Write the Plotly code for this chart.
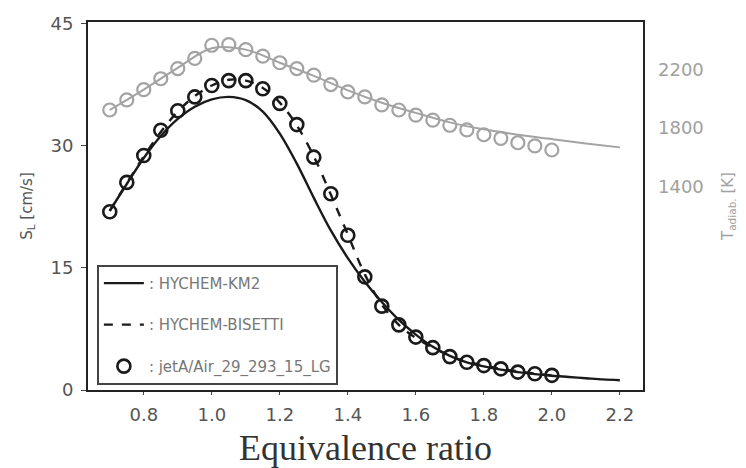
import plotly.graph_objects as go

# Experimental points (jetA/Air)
phi_exp = [0.70, 0.75, 0.80, 0.85, 0.90, 0.95, 1.00, 1.05, 1.10, 1.15, 1.20, 1.25, 1.30, 1.35,
           1.40, 1.45, 1.50, 1.55, 1.60, 1.65, 1.70, 1.75, 1.80, 1.85, 1.90, 1.95, 2.00]
sl_exp = [21.9, 25.5, 28.8, 31.9, 34.3, 36.0, 37.4, 38.0, 38.0, 37.0, 35.2, 32.6, 28.6, 24.1,
          19.0, 13.9, 10.3, 8.0, 6.5, 5.2, 4.1, 3.4, 3.0, 2.6, 2.2, 2.0, 1.8]
t_exp = [1925, 1995, 2065, 2140, 2210, 2280, 2370, 2375, 2340, 2295, 2250, 2210, 2165, 2100,
         2050, 2015, 1960, 1925, 1890, 1855, 1820, 1788, 1755, 1730, 1700, 1678, 1650]

# HYCHEM-BISETTI (dashed)
sl_bisetti = [22.0, 25.4, 28.7, 31.7, 34.2, 36.1, 37.4, 38.1, 38.0, 37.1, 35.3, 32.5, 28.7, 24.0,
              19.1, 14.2, 10.5, 8.0, 6.4, 5.2, 4.2, 3.5, 3.0, 2.6, 2.3, 2.0, 1.8]

# HYCHEM-KM2 (solid)
phi_km2 = [0.70, 0.75, 0.80, 0.85, 0.90, 0.95, 1.00, 1.05, 1.10, 1.15, 1.20, 1.25, 1.30, 1.35,
           1.40, 1.45, 1.50, 1.55, 1.60, 1.65, 1.70, 1.75, 1.80, 1.85, 1.90, 1.95, 2.00, 2.05,
           2.10, 2.15, 2.20]
sl_km2 = [22.0, 25.3, 28.5, 31.2, 33.3, 34.8, 35.7, 36.0, 35.6, 34.2, 31.5, 27.8, 23.6, 19.6,
          16.2, 13.3, 10.8, 8.6, 6.8, 5.3, 4.2, 3.4, 2.9, 2.5, 2.2, 1.95, 1.75, 1.6,
          1.45, 1.3, 1.2]

# Adiabatic temperature (computed, gray line)
phi_t = [0.7, 0.8, 0.9, 1.0, 1.1, 1.2, 1.3, 1.4, 1.5, 1.6, 1.7, 1.8, 1.9, 2.0, 2.1, 2.2]
t_calc = [1925, 2065, 2215, 2350, 2340, 2250, 2160, 2060, 1975, 1905, 1840, 1792, 1755, 1725, 1695, 1668]

x_ticks = [0.8, 1.0, 1.2, 1.4, 1.6, 1.8, 2.0, 2.2]
x_ticktext = ["0.8", "1.0", "1.2", "1.4", "1.6", "1.8", "2.0", "2.2"]
y_ticks = [0, 15, 30, 45]
y2_ticks = [1400, 1800, 2200]

BLACK = "#1a1a1a"
GRAY = "#a3a3a3"
TICKFONT = "DejaVu Sans, sans-serif"

fig = go.Figure()

# Temperature (right axis)
fig.add_trace(go.Scatter(x=phi_t, y=t_calc, yaxis="y2", mode="lines", line=dict(color=GRAY, width=2, shape="spline"),
                         showlegend=False, hoverinfo="skip"))
fig.add_trace(go.Scatter(x=phi_exp, y=t_exp, yaxis="y2", mode="markers",
                         marker=dict(symbol="circle-open", size=13, color=GRAY, line=dict(width=2.2, color=GRAY)),
                         showlegend=False))

# Flame speed (left axis)
fig.add_trace(go.Scatter(x=phi_km2, y=sl_km2, mode="lines", name=": HYCHEM-KM2", legendgroup="a",
                         line=dict(color=BLACK, width=2.4, shape="spline")))
fig.add_trace(go.Scatter(x=phi_exp, y=sl_bisetti, mode="lines", name=": HYCHEM-BISETTI", legendgroup="b",
                         line=dict(color=BLACK, width=2.4, dash="dash", shape="spline")))
fig.add_trace(go.Scatter(x=phi_exp, y=sl_exp, mode="markers", name=": jetA/Air_29_293_15_LG", legendgroup="c",
                         marker=dict(symbol="circle-open", size=13, color=BLACK, line=dict(width=2.6, color=BLACK))))

fig.update_layout(
    width=738, height=460,
    margin=dict(l=80, r=103, t=14, b=78),
    paper_bgcolor="white", plot_bgcolor="white",
    font=dict(family=TICKFONT, color="#444"),
    xaxis=dict(range=[0.636, 2.268], tickvals=x_ticks, ticktext=x_ticktext,
               showline=True, linecolor="#222", linewidth=2, mirror=True,
               ticks="outside", ticklen=3, tickcolor="#444", showgrid=False, zeroline=False,
               tickfont=dict(size=18, color="#555", family=TICKFONT), ticklabelstandoff=4, automargin=False,
               title=dict(text="Equivalence ratio", font=dict(family="Liberation Serif, DejaVu Serif, serif", size=36, color="#333"),
                          standoff=16)),
    yaxis=dict(range=[0, 45.2], tickvals=y_ticks, showline=True, linecolor="#222", linewidth=2, mirror=True,
               ticks="outside", ticklen=5, tickcolor="#444", showgrid=False, zeroline=False,
               tickfont=dict(size=18, color="#555", family=TICKFONT), ticklabelstandoff=4, automargin=False,
               title=dict(text="S<sub>L</sub> [cm/s]", font=dict(size=15, color="#555"), standoff=14)),
    yaxis2=dict(range=[0, 2530], tickvals=y2_ticks, overlaying="y", side="right",
                showline=False, showgrid=False, zeroline=False, ticks="",
                tickfont=dict(size=18, color="#a0a0a0", family=TICKFONT), ticklabelstandoff=14, automargin=False,
                title=dict(text="T<sub>adiab.</sub> [K]", font=dict(size=15, color="#a0a0a0"), standoff=19)),
    legend=dict(x=0.016, y=0.34, xanchor="left", yanchor="top",
                bgcolor="white", bordercolor="#444", borderwidth=2,
                font=dict(size=15, color="#777", family=TICKFONT), traceorder="grouped", tracegroupgap=19,
                itemwidth=40),
)

fig.write_html("out.html")
